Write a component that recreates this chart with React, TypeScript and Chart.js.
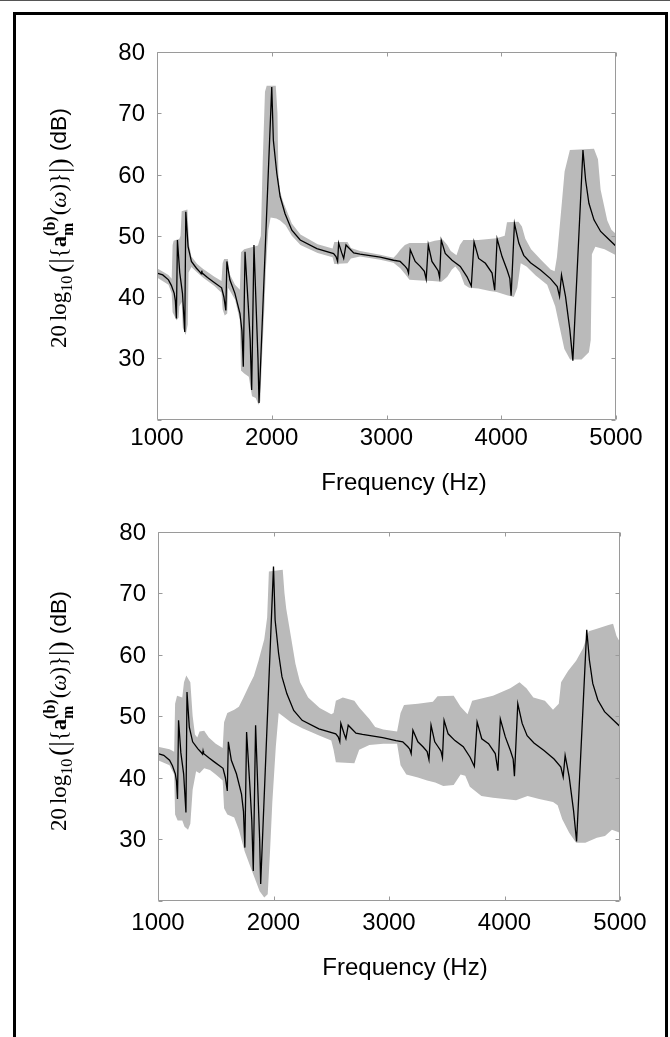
import React, { useEffect, useRef } from "react";
import { Chart, registerables } from "chart.js";

Chart.register(...registerables);

// ---------------- data ----------------
const xTickValues = [1000, 2000, 3000, 4000, 5000];
const yTickValues = [20, 30, 40, 50, 60, 70, 80];
const yHiddenTick = 20;
const xAxisTitle = "Frequency (Hz)";

// mean response (black line), same in both panels
const lineFreq = [
  1000, 1050, 1100, 1125, 1150, 1160, 1169, 1178, 1198, 1222,
  1242, 1251, 1271, 1300, 1344, 1373, 1386, 1390, 1394, 1440,
  1490, 1563, 1583, 1600, 1609, 1635, 1679, 1723, 1740, 1752,
  1767, 1796, 1812, 1825, 1845, 1869, 1880, 1889, 2000, 2014,
  2044, 2073, 2116, 2175, 2248, 2393, 2539, 2560, 2574, 2583,
  2610, 2627, 2647, 2714, 2770, 2945, 3061, 3119, 3163, 3180,
  3192, 3207, 3250, 3294, 3330, 3346, 3364, 3396, 3425, 3450,
  3463, 3477, 3512, 3571, 3643, 3702, 3739, 3763, 3803, 3862,
  3920, 3943, 3964, 4007, 4051, 4075, 4086, 4115, 4153, 4196,
  4255, 4342, 4429, 4488, 4508, 4525, 4560, 4598, 4624, 4712,
  4735, 4764, 4808, 4866, 4939, 5000,
];
const lineDb = [
  43.9, 43.6, 42.8, 41.9, 40.6, 39.4, 36.5, 49.3, 44.0, 40.6,
  34.3, 53.9, 48.2, 45.8, 44.7, 44.1, 43.8, 44.3, 43.9, 43.2,
  42.5, 41.5, 40.0, 37.8, 45.8, 42.8, 40.6, 37.3, 34.5, 28.6,
  47.4, 38.4, 33.0, 24.8, 48.5, 35.7, 30.0, 22.7, 74.3, 65.6,
  60.2, 56.4, 53.6, 50.9, 49.3, 47.9, 47.1, 46.6, 45.8, 48.8,
  47.2, 46.3, 48.5, 47.2, 47.0, 46.5, 46.0, 45.8, 45.0, 44.6,
  43.9, 47.7, 45.8, 45.0, 44.2, 42.9, 48.5, 45.8, 45.0, 44.3,
  43.2, 49.3, 47.1, 46.0, 45.0, 43.3, 41.8, 49.0, 46.3, 45.5,
  43.9, 41.1, 49.5, 46.6, 44.4, 43.0, 40.2, 52.0, 48.8, 46.8,
  45.6, 44.4, 43.0, 41.7, 40.1, 43.6, 40.1, 34.6, 29.6, 64.0,
  59.1, 55.3, 52.6, 50.7, 49.4, 48.3,
];

// top panel: band limits
const topUpperFreq = [
  1000, 1100, 1128, 1136, 1145, 1195, 1205, 1215, 1265, 1280,
  1300, 1350, 1400, 1500, 1562, 1572, 1585, 1618, 1632, 1680,
  1722, 1732, 1760, 1880, 1905, 1921, 1941, 1956, 2035, 2050,
  2058, 2073, 2100, 2175, 2250, 2400, 2530, 2545, 2660, 2690,
  2770, 2945, 3061, 3090, 3120, 3160, 3200, 3350, 3420, 3490,
  3530, 3560, 3610, 3640, 3670, 3800, 3960, 4030, 4050, 4150,
  4180, 4210, 4260, 4350, 4430, 4465, 4485, 4502, 4531, 4552,
  4598, 4808, 4843, 4866, 4924, 4960, 5000,
];
const topUpperDb = [
  44.7, 43.6, 43.0, 48.5, 49.2, 49.5, 50.0, 54.0, 54.3, 48.5,
  46.6, 45.4, 44.6, 43.3, 42.6, 45.5, 46.2, 46.2, 43.8, 42.0,
  41.2, 47.3, 47.8, 48.4, 50.0, 62.0, 73.5, 74.5, 74.5, 70.0,
  60.0, 57.2, 55.5, 52.0, 50.2, 48.6, 47.9, 49.0, 49.0, 48.0,
  47.5, 46.9, 46.4, 47.0, 47.7, 48.5, 48.8, 48.8, 49.2, 49.4,
  48.5, 47.5, 46.8, 48.5, 49.3, 49.3, 49.6, 50.0, 52.2, 52.3,
  51.5, 49.5, 47.8, 46.0, 44.5, 44.2, 46.5, 50.0, 56.0, 60.5,
  64.0, 64.2, 62.5, 57.5, 52.5, 51.0, 50.3,
];
const topLowerFreq = [
  1000, 1100, 1128, 1136, 1170, 1188, 1195, 1215, 1225, 1250,
  1268, 1275, 1300, 1350, 1400, 1500, 1562, 1572, 1590, 1612,
  1620, 1680, 1722, 1732, 1760, 1800, 1828, 1860, 1885, 1900,
  1915, 1935, 1950, 1970, 1990, 2040, 2073, 2120, 2175, 2250,
  2400, 2530, 2545, 2660, 2690, 2770, 2945, 3061, 3120, 3160,
  3200, 3300, 3400, 3480, 3530, 3570, 3600, 3640, 3680, 3720,
  3800, 3900, 3960, 4050, 4110, 4140, 4170, 4220, 4300, 4400,
  4440, 4470, 4510, 4550, 4600, 4700, 4764, 4780, 4790, 4820,
  4900, 5000,
];
const topLowerDb = [
  43.2, 42.0, 40.6, 37.5, 36.2, 36.6, 38.5, 39.2, 35.0, 33.8,
  35.5, 44.0, 44.9, 44.0, 43.2, 41.8, 40.7, 38.0, 37.0, 37.3,
  41.5, 39.6, 36.2, 28.0, 27.5, 27.0, 23.8, 23.5, 22.4, 23.0,
  30.0, 38.0, 45.0, 51.0, 53.0, 52.8, 52.5, 51.7, 50.0, 48.5,
  47.2, 46.5, 45.4, 45.5, 46.3, 46.6, 46.1, 45.6, 44.7, 43.8,
  42.8, 42.7, 42.6, 42.5, 43.3, 44.5, 45.0, 44.0, 42.0, 41.5,
  41.4, 41.0, 40.8, 40.3, 40.0, 41.5, 45.5, 45.0, 43.5, 42.0,
  40.0, 38.5, 35.0, 31.5, 29.8, 29.8, 31.0, 33.0, 47.0, 48.2,
  47.8, 46.8,
];

// bottom panel: band limits
const botUpperFreq = [
  1000, 1100, 1140, 1148, 1165, 1210, 1225, 1245, 1280, 1300,
  1320, 1340, 1360, 1400, 1440, 1500, 1560, 1572, 1600, 1660,
  1700, 1740, 1790, 1830, 1870, 1920, 1945, 1960, 2080, 2095,
  2110, 2150, 2190, 2230, 2300, 2400, 2500, 2520, 2540, 2600,
  2700, 2742, 2830, 2880, 2950, 3070, 3100, 3130, 3250, 3380,
  3420, 3560, 3620, 3680, 3720, 3900, 4050, 4130, 4190, 4250,
  4350, 4420, 4470, 4490, 4550, 4620, 4680, 4730, 4800, 4900,
  4940, 4970, 5000,
];
const botUpperDb = [
  45.0, 44.6, 44.2, 52.0, 53.3, 53.0, 55.5, 56.6, 55.5, 50.0,
  47.0, 46.5, 47.5, 47.6, 46.5, 45.5, 44.8, 49.0, 50.5, 51.0,
  51.5, 53.0, 55.0, 56.5, 59.0, 62.5, 66.0, 73.5, 73.8, 70.0,
  67.5, 63.0, 58.5, 55.5, 53.0, 51.3, 50.3, 50.5, 52.5, 53.0,
  52.5, 51.4, 49.5, 48.2, 47.8, 47.5, 50.5, 51.8, 52.0, 52.3,
  53.2, 53.3, 51.5, 50.3, 52.5, 53.3, 54.5, 55.5, 54.5, 53.0,
  52.5, 51.0, 52.0, 55.5, 57.3, 59.0, 61.0, 63.8, 64.2, 64.8,
  65.0, 63.0, 62.0,
];
const botLowerFreq = [
  1000, 1100, 1140, 1148, 1170, 1210, 1230, 1260, 1280, 1300,
  1330, 1360, 1400, 1450, 1500, 1560, 1572, 1600, 1660, 1700,
  1750, 1800, 1850, 1880, 1920, 1950, 1970, 1990, 2020, 2045,
  2080, 2150, 2250, 2400, 2500, 2520, 2540, 2700, 2742, 2830,
  2950, 3070, 3100, 3150, 3250, 3330, 3400, 3470, 3560, 3620,
  3660, 3700, 3800, 3900, 4000, 4100, 4200, 4300, 4420, 4460,
  4500, 4560, 4620, 4700, 4800, 4870, 4930, 5000,
];
const botLowerDb = [
  42.8, 42.0, 40.5, 34.0, 33.0, 33.0, 32.0, 31.5, 32.5, 38.0,
  41.0, 40.7, 41.5, 41.2, 40.5, 39.5, 35.0, 34.0, 33.5, 31.5,
  28.0, 25.5, 23.0, 21.5, 20.5, 21.0, 28.0, 36.0, 45.0, 50.5,
  50.0, 49.0, 48.0, 46.8, 46.0, 44.5, 42.5, 42.3, 44.5, 45.3,
  45.5, 45.5, 42.0, 40.5, 40.0, 39.5, 39.2, 38.6, 38.8, 40.5,
  40.3, 38.5, 37.0, 36.7, 36.5, 36.3, 37.0, 36.5, 36.0, 35.5,
  33.2, 31.0, 29.4, 29.4, 30.2, 30.5, 31.5, 31.0,
];

// ---------------- styling ----------------
const SANS = '"Liberation Sans", Arial, sans-serif';
const SERIF = '"Liberation Serif", "Times New Roman", serif';
const BAND = "#bababa";
const FRAME = "#9a9a9a";
const W = 670;
const XH = 40;

type Geo = {
  canvasTop: number;
  canvasH: number;
  top: number;
  bottom: number;
  left: number;
  right: number;
  xPad: number;
  xTitleX: number;
  xTitleY: number;
  yTitleX: number;
  yTitleY: number;
};

function toPoints(xs: number[], ys: number[]) {
  return xs.map((x, i) => ({ x, y: ys[i] }));
}

type Part = { t: string; w?: string; s?: string; fam?: string; k?: number; dy?: number };

function drawYTitle(ctx: CanvasRenderingContext2D, cx: number, cy: number, len: number) {
  const runs: { gap: number; parts: Part[] }[] = [
    { gap: 0, parts: [{ t: "20" }] },
    { gap: 0.17, parts: [{ t: "log" }] },
    { gap: 0, parts: [{ t: "10", k: 0.7, dy: 0.25 }] },
    { gap: 0.12, parts: [{ t: "(", k: 1.2, dy: 0.08 }] },
    { gap: 0, parts: [{ t: "|", k: 1.2, dy: 0.08 }] },
    { gap: 0, parts: [{ t: "{" }] },
    { gap: 0, parts: [{ t: "a", w: "bold" }] },
    { gap: 0, parts: [{ t: "m", w: "bold", k: 0.7, dy: 0.3 }, { t: "(b)", w: "bold", k: 0.7, dy: -0.5 }] },
    { gap: 0.04, parts: [{ t: "(" }] },
    { gap: 0, parts: [{ t: "\u03c9", s: "italic" }] },
    { gap: 0, parts: [{ t: ")" }] },
    { gap: 0, parts: [{ t: "}" }] },
    { gap: 0, parts: [{ t: "|", k: 1.2, dy: 0.08 }] },
    { gap: 0, parts: [{ t: ")", k: 1.2, dy: 0.08 }] },
    { gap: 0.3, parts: [{ t: "(dB)", fam: SANS }] },
  ];
  const fontOf = (p: Part, size: number) =>
    `${p.s || "normal"} ${p.w || "normal"} ${size * (p.k || 1)}px ${p.fam || SERIF}`;
  const measure = (size: number) => {
    let total = 0;
    const widths: number[] = [];
    for (const r of runs) {
      let m = 0;
      for (const p of r.parts) {
        ctx.font = fontOf(p, size);
        m = Math.max(m, ctx.measureText(p.t).width);
      }
      total += r.gap * size;
      widths.push(m);
      total += m;
    }
    return { total, widths };
  };
  const base = 20;
  const m0 = measure(base);
  const size = (base * len) / m0.total;
  const m = measure(size);
  ctx.save();
  ctx.translate(cx, cy);
  ctx.rotate(-Math.PI / 2);
  ctx.fillStyle = "#000";
  ctx.textBaseline = "alphabetic";
  ctx.textAlign = "left";
  let x = -m.total / 2;
  runs.forEach((r, i) => {
    x += r.gap * size;
    for (const p of r.parts) {
      ctx.font = fontOf(p, size);
      ctx.fillText(p.t, x, (p.dy || 0) * size);
    }
    x += m.widths[i];
  });
  ctx.restore();
}

function makeConfig(geo: Geo, upF: number[], upV: number[], loF: number[], loV: number[]): any {
  const decor = {
    id: "decor",
    afterDatasetsDraw(chart: any) {
      const { ctx, chartArea: a, scales } = chart;
      const xs = scales.x;
      const ys = scales.y;
      ctx.save();
      ctx.strokeStyle = FRAME;
      ctx.lineWidth = 1;
      const L = Math.round(a.left) + 0.5;
      const R = Math.round(a.right) - 0.5;
      const T = Math.round(a.top) + 0.5;
      const B = Math.round(a.bottom) - 0.5;
      ctx.beginPath();
      ctx.rect(L, T, R - L, B - T);
      for (const v of xTickValues) {
        const px = Math.round(xs.getPixelForValue(v)) + 0.5;
        ctx.moveTo(px, T);
        ctx.lineTo(px, T + 4);
        ctx.moveTo(px, B);
        ctx.lineTo(px, B - 4);
      }
      for (const v of yTickValues) {
        const py = Math.round(ys.getPixelForValue(v)) + 0.5;
        ctx.moveTo(L, py);
        ctx.lineTo(L + 4, py);
        ctx.moveTo(R, py);
        ctx.lineTo(R - 4, py);
      }
      ctx.stroke();
      ctx.restore();
    },
    afterDraw(chart: any) {
      const { ctx } = chart;
      ctx.save();
      ctx.fillStyle = "#000";
      ctx.font = `normal 24px ${SANS}`;
      ctx.textAlign = "center";
      ctx.textBaseline = "middle";
      ctx.fillText(xAxisTitle, geo.xTitleX, geo.xTitleY);
      ctx.restore();
      drawYTitle(ctx, geo.yTitleX, geo.yTitleY, 240);
    },
  };

  return {
    type: "line",
    data: {
      datasets: [
        {
          data: toPoints(upF, upV),
          borderColor: "rgba(0,0,0,0)",
          backgroundColor: BAND,
          borderWidth: 0,
          pointRadius: 0,
          tension: 0,
          fill: "+1",
          order: 2,
        },
        {
          data: toPoints(loF, loV),
          borderColor: "rgba(0,0,0,0)",
          borderWidth: 0,
          pointRadius: 0,
          tension: 0,
          fill: false,
          order: 3,
        },
        {
          data: toPoints(lineFreq, lineDb),
          borderColor: "#000",
          borderWidth: 1.3,
          pointRadius: 0,
          tension: 0,
          fill: false,
          order: 0,
        },
      ],
    },
    options: {
      animation: false,
      responsive: false,
      maintainAspectRatio: false,
      events: [],
      layout: {
        padding: {
          left: 0,
          top: geo.top,
          right: W - geo.right,
          bottom: geo.canvasH - geo.bottom - XH,
        },
      },
      plugins: {
        legend: { display: false },
        tooltip: { enabled: false },
        title: { display: false },
      },
      scales: {
        x: {
          type: "linear",
          min: 1000,
          max: 5000,
          afterFit: (s: any) => {
            s.height = XH;
          },
          afterBuildTicks: (s: any) => {
            s.ticks = xTickValues.map((v) => ({ value: v }));
          },
          grid: { display: false, drawTicks: false },
          border: { display: false },
          ticks: {
            color: "#000",
            font: { family: SANS, size: 24 },
            padding: geo.xPad,
            maxRotation: 0,
            autoSkip: false,
            callback: (v: any) => String(v),
          },
        },
        y: {
          type: "linear",
          min: 20,
          max: 80,
          afterFit: (s: any) => {
            s.width = geo.left;
          },
          afterBuildTicks: (s: any) => {
            s.ticks = yTickValues.map((v) => ({ value: v }));
          },
          grid: { display: false, drawTicks: false },
          border: { display: false },
          ticks: {
            color: "#000",
            font: { family: SANS, size: 24 },
            padding: 12,
            labelOffset: 1.5,
            autoSkip: false,
            callback: (v: any) => (v === yHiddenTick ? "" : String(v)),
          },
        },
      },
    },
    plugins: [decor],
  };
}

function Panel(props: { geo: Geo; upF: number[]; upV: number[]; loF: number[]; loV: number[] }) {
  const ref = useRef<HTMLCanvasElement | null>(null);
  const { geo, upF, upV, loF, loV } = props;
  useEffect(() => {
    if (!ref.current) return;
    const chart = new Chart(ref.current, makeConfig(geo, upF, upV, loF, loV));
    return () => chart.destroy();
  }, []);
  return (
    <canvas
      ref={ref}
      width={W}
      height={geo.canvasH}
      style={{ position: "absolute", left: 0, top: geo.canvasTop, width: W, height: geo.canvasH, display: "block" }}
    />
  );
}

const topGeo: Geo = {
  canvasTop: 0,
  canvasH: 505,
  top: 52,
  bottom: 419.5,
  left: 157,
  right: 616,
  xPad: 4,
  xTitleX: 404,
  xTitleY: 483,
  yTitleX: 66,
  yTitleY: 228,
};
const botGeo: Geo = {
  canvasTop: 505,
  canvasH: 532,
  top: 26.5,
  bottom: 395.5,
  left: 158,
  right: 620,
  xPad: 8,
  xTitleX: 405,
  xTitleY: 463,
  yTitleX: 66,
  yTitleY: 206,
};

export default function App() {
  return (
    <div style={{ position: "fixed", left: 0, top: 0, width: W, height: 1037, overflow: "hidden", background: "#fff" }}>
      <div style={{ position: "absolute", left: 0, top: 0, width: W, height: 1, background: "#555" }} />
      <div
        style={{
          position: "absolute",
          left: 13,
          top: 12,
          width: 655,
          height: 1100,
          border: "3px solid #000",
          borderBottom: "none",
          boxSizing: "border-box",
        }}
      />
      <Panel geo={topGeo} upF={topUpperFreq} upV={topUpperDb} loF={topLowerFreq} loV={topLowerDb} />
      <Panel geo={botGeo} upF={botUpperFreq} upV={botUpperDb} loF={botLowerFreq} loV={botLowerDb} />
    </div>
  );
}
